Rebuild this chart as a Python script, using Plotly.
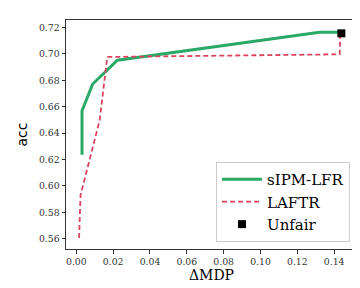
import plotly.graph_objects as go

sipm_x = [0.0031, 0.0031, 0.0089, 0.0223, 0.1321, 0.1439]
sipm_y = [0.6236, 0.6570, 0.6772, 0.6952, 0.7164, 0.7164]

laftr_x = [0.0015, 0.0023, 0.0127, 0.0168, 0.1430, 0.1433]
laftr_y = [0.5605, 0.5930, 0.6500, 0.6977, 0.6997, 0.7160]

unfair_x = [0.1439]
unfair_y = [0.7156]

x_ticks = [0.00, 0.02, 0.04, 0.06, 0.08, 0.10, 0.12, 0.14]
y_ticks = [0.56, 0.58, 0.60, 0.62, 0.64, 0.66, 0.68, 0.70, 0.72]

SERIF = "DejaVu Serif"
SANS = "DejaVu Sans"

fig = go.Figure()
fig.add_trace(go.Scatter(x=sipm_x, y=sipm_y, mode="lines", name="sIPM-LFR",
                         line=dict(color="#2aa865", width=3)))
fig.add_trace(go.Scatter(x=laftr_x, y=laftr_y, mode="lines", name="LAFTR",
                         line=dict(color="#d9435f", width=1.8, dash="5px,3px")))
fig.add_trace(go.Scatter(x=unfair_x, y=unfair_y, mode="markers", name="Unfair",
                         marker=dict(color="black", symbol="square", size=8)))

axis_common = dict(showline=True, mirror=True, linecolor="#333333", linewidth=1,
                   ticks="outside", ticklen=3.5, tickcolor="#333333", showgrid=False,
                   zeroline=False, automargin=False,
                   tickfont=dict(family=SERIF, size=9.3, color="#333333"))

fig.update_layout(
    width=360, height=288,
    font=dict(family=SERIF),
    margin=dict(l=58, r=11, t=12, b=47),
    plot_bgcolor="white", paper_bgcolor="white",
    xaxis=dict(range=[-0.0056, 0.1524], tickvals=x_ticks, tickformat=".2f",
               title=dict(text="ΔMDP", font=dict(family=SERIF, size=14, color="black"), standoff=3),
               **axis_common),
    yaxis=dict(range=[0.5522, 0.7257], tickvals=y_ticks, tickformat=".2f",
               title=dict(text="acc", font=dict(family=SANS, size=14, color="black"), standoff=8),
               **axis_common),
    legend=dict(x=0.976, y=0.031, xanchor="right", yanchor="bottom",
                bgcolor="white", bordercolor="#cccccc", borderwidth=1,
                font=dict(family=SERIF, size=15, color="black"),
                tracegroupgap=0, itemwidth=40),
    showlegend=True,
)

fig.write_html("out.html")
